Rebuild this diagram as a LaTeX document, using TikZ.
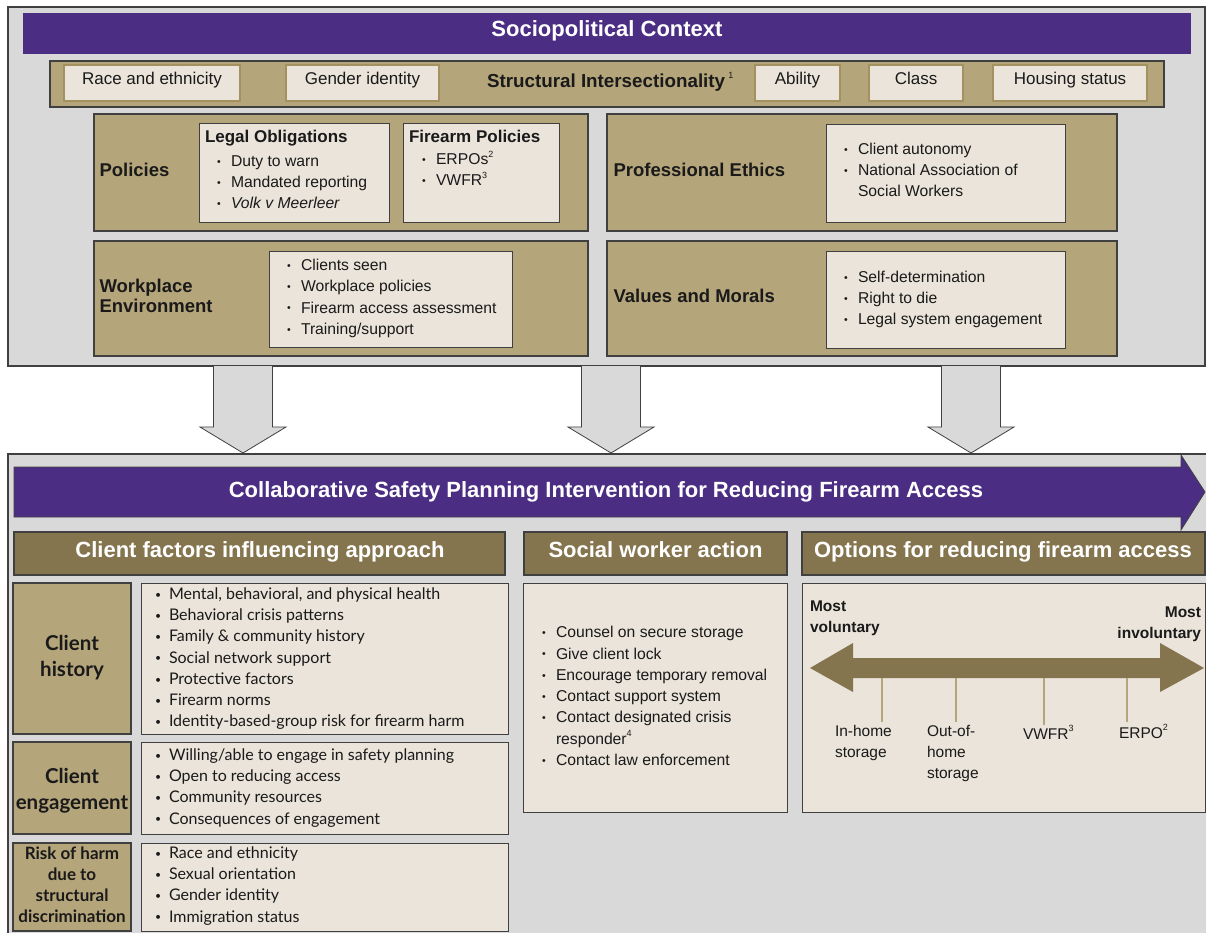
\documentclass[tikz,border=0pt]{standalone}
\usepackage{fontspec}
\setmainfont{Liberation Sans}
\newfontfamily\latofam{Lato}
\usetikzlibrary{calc}

\definecolor{cPurple}{HTML}{4B2E83}
\definecolor{cTan}{HTML}{B5A57A}
\definecolor{cOlive}{HTML}{85754E}
\definecolor{cCream}{HTML}{EAE4DA}
\definecolor{cGray}{HTML}{D9D9D9}
\definecolor{cLine}{HTML}{404040}
\definecolor{cTagEdge}{HTML}{A3925F}
\definecolor{cText}{HTML}{1A1A1A}

% box from top-left (x1,y1) to bottom-right (x2,y2)
\newcommand\mkbox[6]{\node[#1,anchor=north west,minimum width={(#5)-(#3)},minimum height={(#6)-(#4)}] (#2) at (#3,#4) {};}
% small square bullet with hanging indent
\newcommand\blt{\makebox[14pt][l]{\raisebox{1.2pt}{\fontsize{10.5}{10}\selectfont\textbullet}}}
\newcommand\blist[2][l]{\begin{tabular}[t]{@{}#1@{}}#2\end{tabular}}
\newcommand\supr[1]{\raisebox{0.5em}{\fontsize{9}{9}\selectfont #1}}
% grey block arrow from the context panel down to the intervention panel
\newcommand\dnarrow[1]{%
  \draw[darr] let \p1=(ctx.south), \p2=(csp.north) in
    (#1-29.5,\y1) -- (#1-29.5,\y2+27) -- (#1-43,\y2+27) -- (#1,\y2+1)
    -- (#1+43,\y2+27) -- (#1+29.5,\y2+27) -- (#1+29.5,\y1);}

\begin{document}
\begin{tikzpicture}[x=1pt,y=-1pt,
  every node/.style={inner sep=0pt,outer sep=0pt},
  panel/.style={draw=cLine,line width=1.1pt,fill=cGray},
  purplebar/.style={fill=cPurple},
  tanbox/.style={draw=cLine,line width=1.1pt,fill=cTan},
  creambox/.style={draw=cLine,line width=0.9pt,fill=cCream},
  tagbox/.style={draw=cTagEdge,line width=2.2pt,fill=cCream},
  hdr/.style={draw=cLine,line width=1.1pt,fill=cOlive},
  darr/.style={draw=cLine,line width=0.8pt,fill=cGray},
  txt/.style={anchor=base west,text=cText},
  ctxt/.style={anchor=base,text=cText},
  body/.style={font=\fontsize{15.7}{21}\selectfont},
  bodyw/.style={font=\fontsize{15.7}{21.3}\selectfont},
  lbl/.style={font=\fontsize{18.5}{20}\selectfont\bfseries},
  tagtxt/.style={ctxt,font=\fontsize{17}{20}\selectfont},
  headtxt/.style={anchor=base,text=white,font=\fontsize{22}{24}\selectfont\bfseries},
  latobody/.style={font=\latofam\fontsize{16}{21.2}\selectfont},
]
\fill[white] (0,0) rectangle (1206,933);
\useasboundingbox (0,0) rectangle (1206,933);
\clip (0,0) rectangle (1206,933);

% ---------- sociopolitical context ----------
\mkbox{panel}{ctx}{8}{7}{1205}{366}
\mkbox{purplebar}{ctxbar}{23}{13}{1191}{54}
\node[headtxt] (ctxtitle) at (607,37) {Sociopolitical Context};

\mkbox{tanbox}{sibar}{50}{61}{1164}{107}
\mkbox{tagbox}{tRace}{64}{65}{240}{101}
\mkbox{tagbox}{tGender}{286}{65}{439}{101}
\mkbox{tagbox}{tAbility}{755}{65}{840}{101}
\mkbox{tagbox}{tClass}{869}{65}{963}{101}
\mkbox{tagbox}{tHousing}{993}{65}{1147}{101}
\node[tagtxt] (tRaceT) at (152,84.5) {Race and ethnicity};
\node[tagtxt] (tGenderT) at (362.5,84.5) {Gender identity};
\node[tagtxt] (tAbilityT) at (797.5,84.5) {Ability};
\node[tagtxt] (tClassT) at (916,84.5) {Class};
\node[tagtxt] (tHousingT) at (1070,84.5) {Housing status};
\node[txt,font=\fontsize{18.8}{20}\selectfont] (siT) at (487,87.5) {\textbf{Structural Intersectionality}\,\supr{1}};

% policies
\mkbox{tanbox}{pol}{94}{114}{588}{231}
\node[txt,lbl] (polT) at (99.5,176.6) {Policies};
\mkbox{creambox}{legal}{199}{123}{389}{222}
\node[txt,font=\fontsize{17}{20}\selectfont\bfseries] (legalT) at (205,143) {Legal Obligations};
\node[txt,body] (legalL) at (217,166.5) {\blist{\blt Duty to warn\\ \blt Mandated reporting\\ \blt \textit{Volk v Meerleer}}};
\mkbox{creambox}{fire}{403}{123}{559}{222}
\node[txt,font=\fontsize{17}{20}\selectfont\bfseries] (fireT) at (409,142.5) {Firearm Policies};
\node[txt,body] (fireL) at (422,165) {\blist{\blt ERPOs\supr{2}\\ \blt VWFR\supr{3}}};

% professional ethics
\mkbox{tanbox}{eth}{607}{114}{1117}{231}
\node[txt,lbl] (ethT) at (613.5,176.6) {Professional Ethics};
\mkbox{creambox}{ethI}{826}{124}{1065}{222}
\node[txt,body] (ethL) at (844,154.5) {\blist{\blt Client autonomy\\ \blt National Association of\\ \hspace*{14pt}Social Workers}};

% workplace environment
\mkbox{tanbox}{work}{94}{241}{588}{356}
\node[txt,lbl] (workT) at (99.5,292.6) {\blist{Workplace\\Environment}};
\mkbox{creambox}{workI}{269}{251}{512}{347}
\node[txt,bodyw] (workL) at (287,270.5) {\blist{\blt Clients seen\\ \blt Workplace policies\\ \blt Firearm access assessment\\ \blt Training/support}};

% values and morals
\mkbox{tanbox}{val}{607}{241}{1117}{356}
\node[txt,lbl] (valT) at (613.5,302.6) {Values and Morals};
\mkbox{creambox}{valI}{826}{251}{1065}{348}
\node[txt,body] (valL) at (844,282.5) {\blist{\blt Self-determination\\ \blt Right to die\\ \blt Legal system engagement}};

% ---------- intervention ----------
\mkbox{panel}{csp}{8}{454}{1215}{945}

\dnarrow{243}
\dnarrow{611}
\dnarrow{971}

\fill[cPurple,draw=cLine,line width=0.8pt] (14,467) -- (1181,467) -- (1181,455) -- (1205,492)
  -- (1181,530) -- (1181,517) -- (14,517) -- cycle;
\node[headtxt] (cspT) at (606,497)
  {Collaborative Safety Planning Intervention for Reducing Firearm Access};

\mkbox{hdr}{hClient}{14}{532}{505}{575}
\mkbox{hdr}{hWorker}{524}{532}{787}{575}
\mkbox{hdr}{hOptions}{802}{532}{1205}{575}
\node[headtxt] (hClientT) at (260,557) {Client factors influencing approach};
\node[headtxt] (hWorkerT) at (655.5,557) {Social worker action};
\node[headtxt] (hOptionsT) at (1003,557) {Options for reducing firearm access};

% client factors
\mkbox{tanbox}{lHist}{13}{583}{131}{734}
\mkbox{tanbox}{lEng}{13}{742}{131}{834}
\mkbox{tanbox}{lRisk}{13}{843}{131}{931}
\mkbox{creambox}{cHist}{141}{583}{508}{734}
\mkbox{creambox}{cEng}{141}{742}{508}{834}
\mkbox{creambox}{cRisk}{141}{843}{508}{931}
\node[ctxt,font=\latofam\fontsize{20.5}{26}\selectfont\bfseries] (lHistT) at (72,650) {\blist[c]{Client\\history}};
\node[ctxt,font=\latofam\fontsize{20.5}{26}\selectfont\bfseries] (lEngT) at (72,783) {\blist[c]{Client\\engagement}};
\node[ctxt,font=\latofam\fontsize{17}{21.3}\selectfont\bfseries] (lRiskT) at (72,859) {\blist[c]{Risk of harm\\due to\\structural\\discrimination}};
\node[txt,latobody] (cHistL) at (155,599.4) {\blist{\blt Mental, behavioral, and physical health\\ \blt Behavioral crisis patterns\\ \blt Family \& community history\\ \blt Social network support\\ \blt Protective factors\\ \blt Firearm norms\\ \blt Identity-based-group risk for firearm harm}};
\node[txt,latobody] (cEngL) at (155,760.4) {\blist{\blt Willing/able to engage in safety planning\\ \blt Open to reducing access\\ \blt Community resources\\ \blt Consequences of engagement}};
\node[txt,latobody] (cRiskL) at (155,858.4) {\blist{\blt Race and ethnicity\\ \blt Sexual orientation\\ \blt Gender identity\\ \blt Immigration status}};

% social worker action
\mkbox{creambox}{sw}{523}{583}{787}{812}
\node[txt,bodyw] (swL) at (542,637.7) {\blist{\blt Counsel on secure storage\\ \blt Give client lock\\ \blt Encourage temporary removal\\ \blt Contact support system\\ \blt Contact designated crisis\\ \hspace*{14pt}responder\supr{4}\\ \blt Contact law enforcement}};

% options continuum
\mkbox{creambox}{opt}{802}{583}{1205}{812}
\node[txt,font=\fontsize{15.5}{21}\selectfont\bfseries] (mostVol) at (810,611) {\blist{Most\\voluntary}};
\node[anchor=base east,text=cText,font=\fontsize{15.5}{21}\selectfont\bfseries] (mostInv) at (1201,617) {\blist[r]{Most\\involuntary}};
\fill[cOlive] (810,668) -- (853,643) -- (853,658) -- (1160,658) -- (1160,643) -- (1204,668)
  -- (1160,692) -- (1160,678) -- (853,678) -- (853,692) -- cycle;
\foreach \tx/\ty in {882/722,956/722,1044/725,1127/722}
  \draw[cTan,line width=1.2pt] (\tx,678) -- (\tx,\ty);
\node[txt,font=\fontsize{15.5}{21}\selectfont] (oHome) at (835,736) {\blist{In-home\\storage}};
\node[txt,font=\fontsize{15.5}{21}\selectfont] (oOut) at (927,736) {\blist{Out-of-\\home\\storage}};
\node[txt,font=\fontsize{15.5}{21}\selectfont] (oVwfr) at (1023,739) {VWFR\supr{3}};
\node[txt,font=\fontsize{15.5}{21}\selectfont] (oErpo) at (1119,738) {ERPO\supr{2}};
\end{tikzpicture}
\end{document}
